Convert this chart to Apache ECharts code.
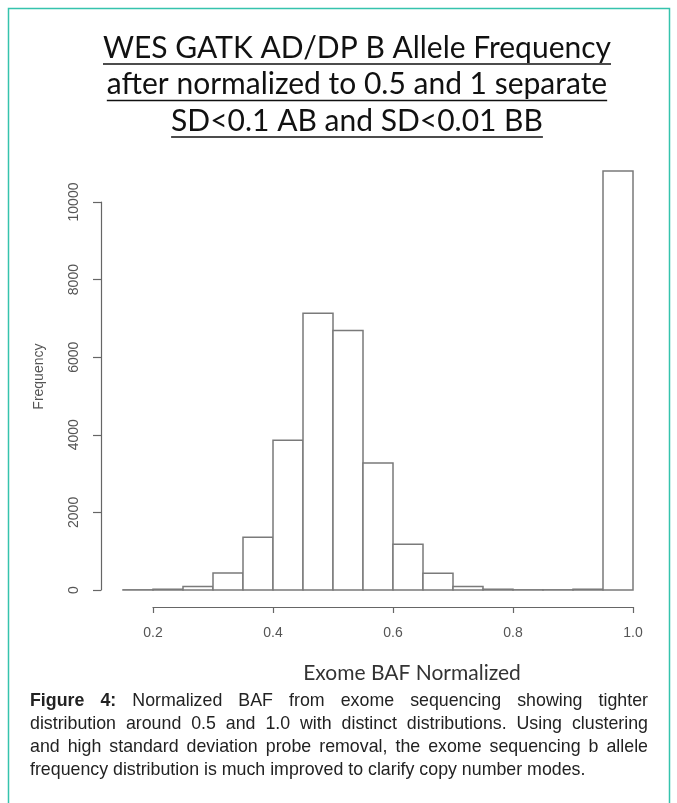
<!DOCTYPE html>
<html>
<head>
<meta charset="utf-8">
<script src="https://cdn.jsdelivr.net/npm/echarts@6/dist/echarts.min.js"></script>
<style>
  html, body { margin: 0; padding: 0; background: #fff; }
  #chart { width: 677px; height: 803px; }
  #caption {
    position: absolute; left: 30px; top: 689px; width: 618px;
    font-family: 'Liberation Sans', Arial, sans-serif; font-size: 17.8px;
    line-height: 23px; color: #222;
  }
  #caption div { text-align: justify; text-align-last: justify; white-space: nowrap; }
  #caption div.last { text-align-last: left; }
</style>
</head>
<body>
<div id="chart"></div>
<div id="caption">
  <div><b>Figure 4:</b> Normalized BAF from exome sequencing showing tighter</div>
  <div>distribution around 0.5 and 1.0 with distinct distributions. Using clustering</div>
  <div>and high standard deviation probe removal, the exome sequencing b allele</div>
  <div class="last">frequency distribution is much improved to clarify copy number modes.</div>
</div>
<script>
// histogram bins (edges) and counts
const binEdges = [0.15, 0.2, 0.25, 0.3, 0.35, 0.4, 0.45, 0.5, 0.55, 0.6, 0.65, 0.7, 0.75, 0.8, 0.85, 0.9, 0.95, 1.0]
const counts = [5, 20, 90, 440, 1360, 3860, 7130, 6690, 3270, 1180, 430, 90, 20, 5, 5, 20, 10800]
const xTicks = [0.2, 0.4, 0.6, 0.8, 1.0]
const yTicks = [0, 2000, 4000, 6000, 8000, 10000]
const titleLines = [
  'WES GATK AD/DP B Allele Frequency',
  'after normalized to 0.5 and 1 separate',
  'SD<0.1 AB and SD<0.01 BB'
]

const chart = echarts.init(document.getElementById('chart'))

// title is drawn as text + underline (echarts text has no underline)
const titleFont = 'normal 30px Lato'
const ctx = document.createElement('canvas').getContext('2d')
ctx.font = titleFont
const titleCx = 357
const titleGraphics = []
titleLines.forEach((line, i) => {
  const y = 48 + i * 36.5
  const w = ctx.measureText(line).width
  titleGraphics.push({
    type: 'text', x: titleCx, y: y,
    style: { text: line, font: titleFont, fill: '#111', align: 'center', verticalAlign: 'middle' }
  })
  titleGraphics.push({
    type: 'line',
    shape: { x1: titleCx - w / 2, y1: y + 16, x2: titleCx + w / 2, y2: y + 16 },
    style: { stroke: '#111', lineWidth: 1.6 }
  })
})

const axisGrey = '#666'
const labelGrey = '#555'

chart.setOption({
  animation: false,
  backgroundColor: '#fff',
  grid: [
    { left: 93, top: 163.2, width: 540, height: 426.8 },  // data
    { left: 153, top: 200, width: 480, height: 407 },     // x axis
    { left: 101, top: 202, width: 400, height: 388 }      // y axis
  ],
  xAxis: [
    { gridIndex: 0, type: 'value', min: 0.1, max: 1.0, interval: 0.1, show: false },
    {
      gridIndex: 1, type: 'value',
      min: xTicks[0], max: xTicks[xTicks.length - 1], interval: xTicks[1] - xTicks[0],
      axisLine: { lineStyle: { color: axisGrey, width: 1.2 } },
      axisTick: { length: 6, lineStyle: { color: axisGrey, width: 1.2 } },
      axisLabel: { margin: 19, fontSize: 14, color: labelGrey, fontFamily: 'Liberation Sans', formatter: v => v.toFixed(1) },
      splitLine: { show: false },
      name: 'Exome BAF Normalized', nameLocation: 'middle', nameGap: 56,
      nameTextStyle: { fontSize: 21, color: '#333', fontFamily: 'Lato', padding: [0, 0, 0, 38] }
    },
    { gridIndex: 2, type: 'value', show: false }
  ],
  yAxis: [
    {
      gridIndex: 0, type: 'value', min: 0, max: 11000, interval: 1000,
      axisLine: { show: false }, axisTick: { show: false }, axisLabel: { show: false }, splitLine: { show: false },
      name: 'Frequency', nameLocation: 'middle', nameGap: 47,
      nameTextStyle: { fontSize: 14, color: labelGrey, fontFamily: 'Liberation Sans' }
    },
    { gridIndex: 1, type: 'value', show: false },
    {
      gridIndex: 2, type: 'value',
      min: yTicks[0], max: yTicks[yTicks.length - 1], interval: yTicks[1] - yTicks[0],
      axisLine: { show: true, lineStyle: { color: axisGrey, width: 1.2 } },
      axisTick: { show: true, length: 8, lineStyle: { color: axisGrey, width: 1.2 } },
      axisLabel: { rotate: 90, margin: 20, fontSize: 14, color: labelGrey, fontFamily: 'Liberation Sans', formatter: v => String(v) },
      splitLine: { show: false }
    }
  ],
  series: [{
    type: 'custom',
    xAxisIndex: 0,
    yAxisIndex: 0,
    data: counts.map((c, i) => [binEdges[i], binEdges[i + 1], c]),
    renderItem: (params, api) => {
      const p0 = api.coord([api.value(0), 0])
      const p1 = api.coord([api.value(1), api.value(2)])
      return {
        type: 'rect',
        shape: { x: p0[0], y: p1[1], width: p1[0] - p0[0], height: p0[1] - p1[1] },
        style: { fill: '#fff', stroke: '#7a7a7a', lineWidth: 1.5 }
      }
    }
  }],
  graphic: [
    {
      type: 'rect', silent: true,
      shape: { x: 8.5, y: 8.5, width: 661, height: 830 },
      style: { fill: 'none', stroke: '#35c3ad', lineWidth: 1.5 }
    }
  ].concat(titleGraphics)
})
</script>
</body>
</html>
